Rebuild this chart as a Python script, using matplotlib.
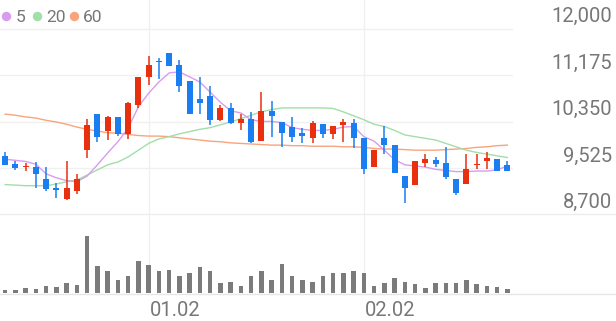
import matplotlib
matplotlib.use("Agg")
import matplotlib.pyplot as plt
import numpy as np

plt.rcParams["font.family"] = ["Roboto", "DejaVu Sans"]

opens = [9750, 9600, 9550, 9560, 9330, 9180, 8980, 9130, 9860, 10500,
         10190, 10430, 10140, 10660, 11140, 11430, 11580, 11370, 11080, 10760,
         10820, 10390, 10590, 10340, 10400, 10020, 10550, 10350, 10260, 10150,
         10060, 10310, 10130, 10300, 10340, 10070, 9560, 10070, 9950, 9390,
         9230, 9630, 9680, 9620, 9330, 9250, 9590, 9660, 9690, 9590]
highs = [9810, 9660, 9620, 9640, 9560, 9260, 9650, 9430, 10400, 10500,
         10460, 10430, 10710, 11150, 11520, 11480, 11580, 11450, 11080, 11140,
         10990, 10650, 10690, 10490, 10530, 10880, 10720, 10350, 10440, 10240,
         10360, 10310, 10280, 10400, 10400, 10070, 9850, 10280, 9950, 9390,
         9650, 9790, 9730, 9900, 9330, 9780, 9780, 9810, 9690, 9660]
lows = [9580, 9500, 9480, 9180, 9130, 9000, 8970, 9070, 9720, 10000,
        10030, 10110, 10040, 10590, 11010, 11110, 11340, 10890, 10490, 10500,
        10300, 10360, 10320, 10200, 9980, 10020, 10080, 9910, 10000, 9980,
        9970, 10060, 10040, 10000, 9890, 9430, 9560, 9780, 9440, 8910,
        9230, 9550, 9560, 9330, 9050, 9250, 9510, 9510, 9480, 9480]
closes = [9590, 9540, 9570, 9430, 9160, 9140, 9180, 9340, 10300, 10090,
          10430, 10130, 10680, 11150, 11370, 11410, 11340, 10990, 10490, 10690,
          10390, 10600, 10330, 10400, 10000, 10550, 10460, 10160, 10090, 10100,
          10340, 10130, 10280, 10350, 10060, 9510, 9850, 9940, 9440, 9180,
          9650, 9690, 9600, 9380, 9090, 9510, 9610, 9710, 9480, 9480]
ma5 = [9690, 9670, 9650, 9600, 9430, 9360, 9310, 9290, 9390, 9590,
       9800, 10000, 10240, 10620, 10860, 11060, 11220, 11240, 11150, 11060,
       10880, 10700, 10550, 10510, 10390, 10360, 10360, 10340, 10250, 10220,
       10200, 10200, 10220, 10260, 10270, 10090, 10010, 9850, 9680, 9590,
       9570, 9550, 9510, 9490, 9470, 9470, 9480, 9480, 9500, 9570]
ma20 = [9240, 9230, 9220, 9220, 9220, 9250, 9290, 9320, 9410, 9500,
        9590, 9640, 9730, 9850, 9970, 10050, 10090, 10140, 10180, 10220,
        10250, 10300, 10350, 10410, 10470, 10530, 10570, 10600, 10600, 10600,
        10600, 10600, 10590, 10530, 10460, 10390, 10310, 10270, 10200, 10120,
        10090, 10060, 10030, 9970, 9910, 9850, 9810, 9780, 9750, 9720]
ma60 = [10490, 10470, 10440, 10420, 10380, 10350, 10310, 10260, 10220, 10190,
        10160, 10150, 10130, 10110, 10100, 10100, 10090, 10070, 10050, 10030,
        10010, 10000, 9980, 9970, 9960, 9950, 9940, 9940, 9930, 9930,
        9920, 9920, 9920, 9910, 9910, 9900, 9880, 9870, 9870, 9860,
        9850, 9850, 9850, 9860, 9870, 9880, 9900, 9910, 9930, 9940]
volume = [15000, 15000, 25000, 21000, 36000, 30000, 50000, 38000, 287000, 137000,
          112000, 65000, 87000, 158000, 142000, 112000, 115000, 83000, 102000, 128000,
          112000, 50000, 55000, 37000, 83000, 110000, 63000, 147000, 85000, 65000,
          55000, 87000, 98000, 102000, 108000, 102000, 33000, 50000, 73000, 53000,
          47000, 27000, 48000, 52000, 48000, 65000, 45000, 35000, 32000, 20000]
price_ticks = [12000, 11175, 10350, 9525, 8700]
date_pos = [14, 35]
date_labels = ["01.02", "02.02"]

UP, DOWN = "#e8300e", "#1a7ef0"
GRID, TXT = "#f0f0f0", "#777777"
W, H = 616, 321

fig = plt.figure(figsize=(W / 100, H / 100), dpi=100)
ax = fig.add_axes([0, 1 - 215 / H, 512.5 / W, 215 / H])
vax = fig.add_axes([0, 1 - 293 / H, 512.5 / W, 79 / H])
for a in (ax, vax):
    a.set_axis_off()
    a.set_xlim(-0.5, len(opens) - 0.5)
ax.set_ylim(8700, 12514.5)
vax.set_ylim(0, 395000)

x = np.arange(len(opens))
o, h, l, c = map(np.array, (opens, highs, lows, closes))
col = np.where(c >= o, UP, DOWN)

for p in price_ticks[:-1]:
    ax.axhline(p, color=GRID, lw=1, zorder=0)
for d in date_pos:
    ax.axvline(d, color=GRID, lw=1, zorder=0)
    vax.axvline(d, color=GRID, lw=1, zorder=0)

ax.plot(x, ma60, color="#f8a47e", lw=1.0, zorder=1)
ax.plot(x, ma20, color="#a2dea8", lw=1.0, zorder=1)
ax.plot(x, ma5, color="#d99cee", lw=1.0, zorder=1)

ax.vlines(x, l, h, colors=col, lw=1.1, zorder=2)
ax.bar(x, np.maximum(np.abs(c - o), 15), bottom=np.minimum(o, c), width=0.58,
       color=col, zorder=3)

vax.bar(x, volume, width=0.42, color="#7b7b7b", zorder=2)

fig.add_artist(plt.Line2D([0, 1], [1 - 214 / H] * 2, color="#ededed", lw=1))
fig.add_artist(plt.Line2D([0, 1], [1 - 293.5 / H] * 2, color="#e6e6e6", lw=1))

for p in price_ticks:
    ax.annotate(f"{p:,}", xy=(612 / 512.5, p), xycoords=("axes fraction", "data"),
                xytext=(0, 7), textcoords="offset pixels", ha="right", va="baseline",
                fontsize=14.5, color=TXT, annotation_clip=False)
for d, s in zip(date_pos, date_labels):
    vax.annotate(s, xy=(d, 0), xycoords="data", xytext=(1, -23.5),
                 textcoords="offset pixels", ha="left", va="baseline",
                 fontsize=14.5, color=TXT, annotation_clip=False)

for cx, tx, lab, cc in [(6, 16, "5", "#d99cee"), (37, 46.5, "20", "#a2dea8"),
                        (74, 83, "60", "#f8a47e")]:
    fig.add_artist(plt.Line2D([cx / W], [1 - 15.7 / H], marker="o", ms=6.8,
                              color=cc, mec="none"))
    fig.text(tx / W, 1 - 21.7 / H, lab, fontsize=12.5, color=TXT, va="baseline")

fig.savefig("out.png", dpi=100)
